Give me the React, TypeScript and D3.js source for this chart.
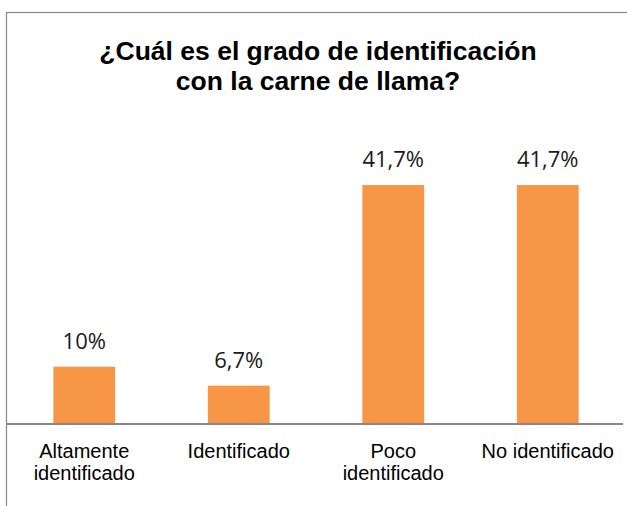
import React from "react";
import * as d3 from "d3";

const categories: string[][] = [
  ["Altamente", "identificado"],
  ["Identificado"],
  ["Poco", "identificado"],
  ["No identificado"],
];
const values: number[] = [10, 6.7, 41.7, 41.7];
const valueLabels: string[] = ["10%", "6,7%", "41,7%", "41,7%"];
const titleLines: string[] = [
  "¿Cuál es el grado de identificación",
  "con la carne de llama?",
];

export default function App() {
  const W = 627;
  const H = 506;
  const baseY = 424;
  const keys = categories.map((c) => c.join(" "));
  const x = d3
    .scaleBand<string>()
    .domain(keys)
    .range([7, 625])
    .paddingInner(0.6)
    .paddingOuter(0.3);
  const y = d3.scaleLinear().domain([0, 45]).range([baseY, baseY - 45 * 5.73]);

  return (
    <svg
      width={W}
      height={H}
      style={{ position: "absolute", left: 0, top: 0, background: "#fff" }}
    >
      <rect x={0} y={0} width={W} height={H} fill="#fff" />
      <rect
        x={6.5}
        y={12.5}
        width={W + 20}
        height={H + 20}
        fill="none"
        stroke="#878787"
        strokeWidth={1.2}
      />
      {titleLines.map((t, i) => (
        <text
          key={i}
          x={318}
          y={59.5 + i * 30}
          textAnchor="middle"
          fontFamily="'Liberation Sans', Arial, sans-serif"
          fontWeight="bold"
          fontSize={26.5}
          fill="#000"
        >
          {t}
        </text>
      ))}
      {values.map((v, i) => {
        const k = keys[i];
        const bx = x(k)!;
        const bw = x.bandwidth();
        return (
          <g key={k}>
            <rect x={bx} y={y(v)} width={bw} height={baseY - y(v)} fill="#F79646" />
            <text
              x={bx + bw / 2}
              y={y(v) - 18}
              textAnchor="middle"
              fontFamily="'Open Sans', sans-serif"
              fontSize={22}
              fill="#1a1a1a"
            >
              {valueLabels[i]}
            </text>
            {categories[i].map((line, j) => (
              <text
                key={j}
                x={bx + bw / 2}
                y={458 + j * 22}
                textAnchor="middle"
                fontFamily="'Liberation Sans', Arial, sans-serif"
                fontSize={20}
                fill="#000"
              >
                {line}
              </text>
            ))}
          </g>
        );
      })}
      <line x1={7} x2={623} y1={baseY} y2={baseY} stroke="#898989" strokeWidth={1.8} />
    </svg>
  );
}
